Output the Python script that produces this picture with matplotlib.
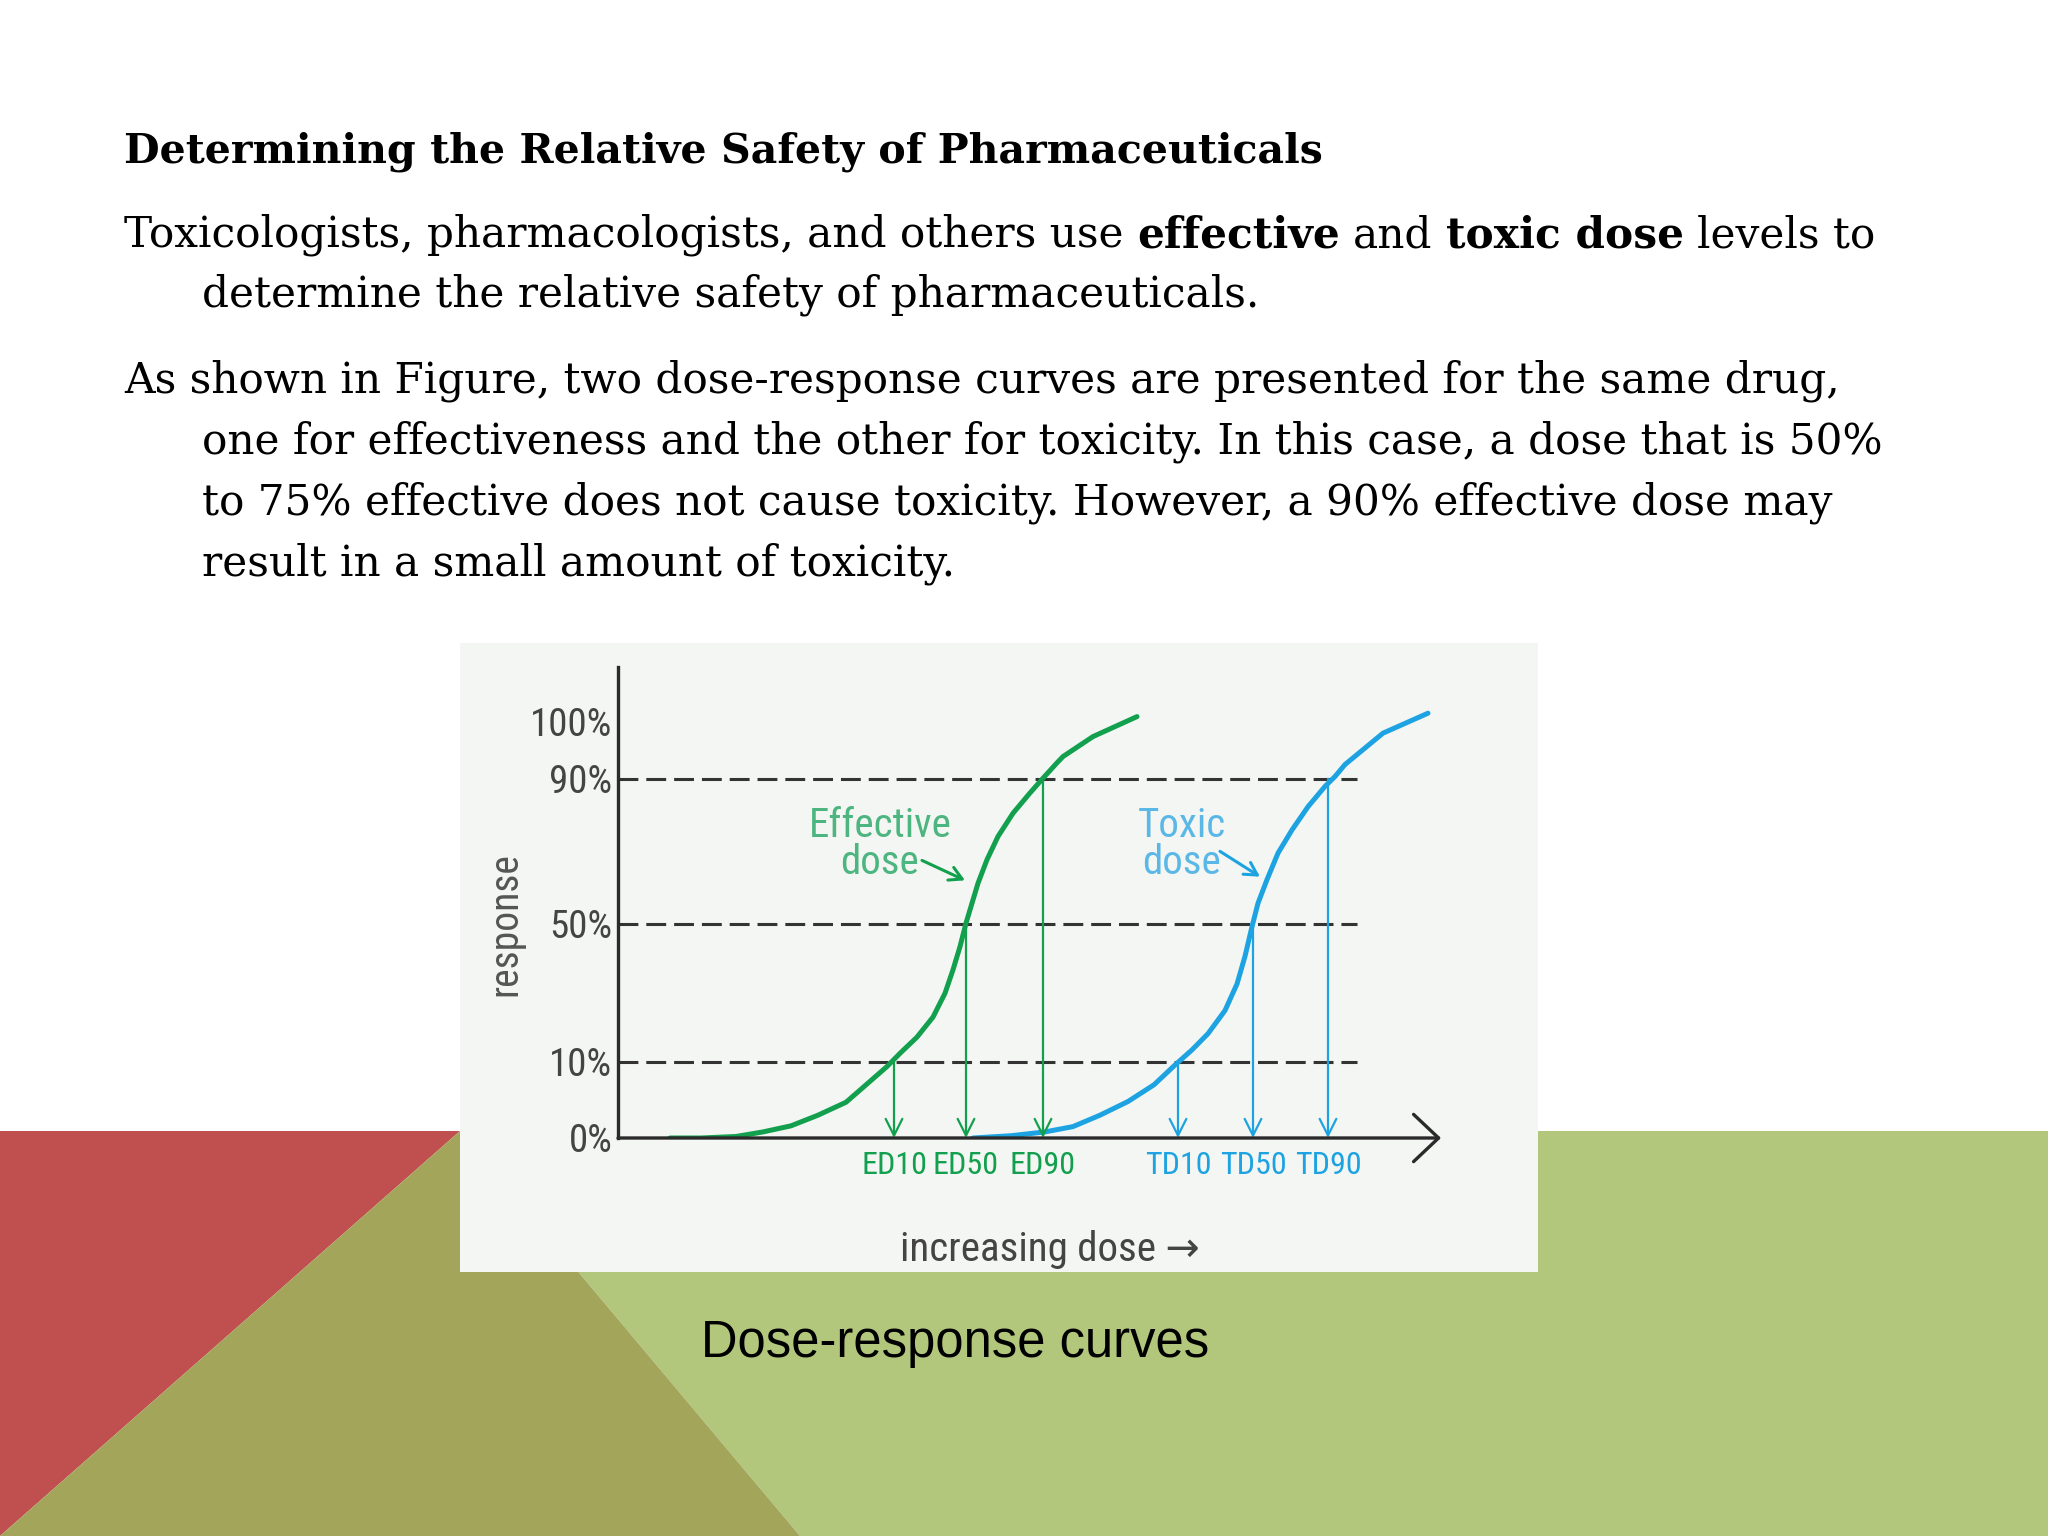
import numpy as np
import matplotlib
matplotlib.use('Agg')
import matplotlib.pyplot as plt
from matplotlib import font_manager
from matplotlib.patches import Polygon, Rectangle

# slide text
title_text = "Determining the Relative Safety of Pharmaceuticals"
para1_lines = [
    [("Toxicologists, pharmacologists, and others use", "normal"), ("effective", "bold"),
     ("and", "normal"), ("toxic dose", "bold"), ("levels to", "normal")],
    [("determine the relative safety of pharmaceuticals.", "normal")],
]
para2_lines = [
    "As shown in Figure, two dose-response curves are presented for the same drug,",
    "one for effectiveness and the other for toxicity. In this case, a dose that is 50%",
    "to 75% effective does not cause toxicity. However, a 90% effective dose may",
    "result in a small amount of toxicity.",
]
caption_text = "Dose-response curves"

# chart data (dose in arbitrary units, response in %)
response_ticks = [0, 10, 50, 90, 100]
response_tick_labels = ['0%', '10%', '50%', '90%', '100%']
# the hand drawn response axis is not linear: drawn height (px) of each level
scale_pct = [0, 10, 50, 90, 100, 110]
scale_px = [0, 76, 214, 359, 416, 473]

effective_dose = [5.2, 8.3, 11.8, 14.5, 17.3, 20.0, 22.8, 24.2, 26.9, 28.2, 29.9, 31.5,
                  32.7, 33.5, 34.2, 34.8, 35.4, 36.0, 36.9, 38.0, 39.5, 41.2, 42.5,
                  43.9, 44.5, 47.5, 51.9]
effective_resp = [0, 0, 0.2, 0.8, 1.6, 3.0, 4.7, 6.3, 9.4, 12.5, 17.2, 23.0,
                  29.9, 36.7, 43.4, 50.2, 55.7, 61.2, 67.7, 74.1, 80.5, 86.1, 90.1,
                  92.8, 93.9, 97.4, 100.9]
toxic_dose = [35.5, 39.3, 42.7, 45.5, 48.2, 51.0, 53.6, 55.7, 57.4, 59.0, 60.7, 61.9,
              62.7, 63.4, 64.0, 64.9, 66.0, 67.4, 69.0, 70.7, 71.7, 72.7,
              76.5, 81.0]
toxic_resp = [0, 0.3, 0.8, 1.5, 3.0, 4.8, 7.0, 9.6, 13.5, 18.2, 24.9, 32.6,
              40.6, 49.2, 55.7, 62.2, 69.5, 75.9, 82.3, 87.9, 90.4, 92.5,
              98.0, 101.5]

levels = [10, 50, 90]
ed_labels = ['ED10', 'ED50', 'ED90']
ed_values = [27.6, 34.8, 42.5]
td_labels = ['TD10', 'TD50', 'TD90']
td_values = [56.0, 63.5, 71.0]

GREEN = '#12a04e'
GREEN_TXT = '#4db57f'
BLUE = '#1ea3e2'
BLUE_TXT = '#5bb8e6'
INK = '#2a2a2a'

names = {f.name for f in font_manager.fontManager.ttflist}
hand = 'DejaVu Sans'
for cand in ['Roboto Condensed', 'Liberation Sans Narrow', 'Roboto', 'Liberation Sans']:
    if cand in names:
        hand = cand
        break
hand_fam = [hand, 'DejaVu Sans']
serif = ['DejaVu Serif']

fig = plt.figure(figsize=(20.48, 15.36), dpi=100)
W, H = 2048, 1536

# background layer in pixel coordinates
bg = fig.add_axes([0, 0, 1, 1])
bg.set_xlim(0, W)
bg.set_ylim(H, 0)
bg.axis('off')
bg.add_patch(Polygon([(460, 1131), (W, 1131), (W, H), (800, H)], closed=True, color='#b2c67c', lw=0))
bg.add_patch(Polygon([(0, 1131), (460, 1131), (0, H)], closed=True, color='#c0504f', lw=0))
bg.add_patch(Polygon([(460, 1131), (800, H), (0, H)], closed=True, color='#a3a65a', lw=0))
bg.add_patch(Rectangle((460, 643), 1078, 629, color='#f4f6f3', lw=0))

renderer = fig.canvas.get_renderer()
body_size = 30.4
title_size = 29.6


def text_width(s, weight):
    t = bg.text(0, 0, s, fontsize=body_size, fontweight=weight, family=serif)
    w = t.get_window_extent(renderer).width
    t.remove()
    return w


space_w = text_width("x x", "normal") - text_width("xx", "normal")


def draw_runs(x, y, runs):
    for i, (s, weight) in enumerate(runs):
        if i > 0:
            x += space_w
        t = bg.text(x, y, s, fontsize=body_size, fontweight=weight, family=serif,
                    va='baseline', ha='left', color='black')
        x += t.get_window_extent(renderer).width


bg.text(124, 162, title_text, fontsize=title_size, fontweight='bold', family=serif,
        va='baseline', ha='left')
draw_runs(124, 247, para1_lines[0])
draw_runs(202, 307, para1_lines[1])
for i, line in enumerate(para2_lines):
    draw_runs(124 if i == 0 else 202, 392 + i * 61.3, [(line, "normal")])

bg.text(701, 1357, caption_text, fontsize=36.5, family=['Liberation Sans', 'DejaVu Sans'],
        va='baseline', ha='left')

# chart axes
ax = fig.add_axes([618 / W, 1 - 1138 / H, (1445 - 618) / W, (1138 - 667) / H])
ax.patch.set_alpha(0)


def fwd(p):
    return np.interp(p, scale_pct, scale_px)


def inv(h):
    return np.interp(h, scale_px, scale_pct)


ax.set_yscale('function', functions=(fwd, inv))
ax.set_xlim(0, 82.7)
ax.set_ylim(0, 109.6)

for s in ['top', 'right', 'bottom']:
    ax.spines[s].set_visible(False)
ax.spines['left'].set_linewidth(2.4)
ax.spines['left'].set_color(INK)

ax.hlines(levels, 0, 73.9, colors='#333333', linewidth=2.2, linestyles=(0, (6.5, 2.6)))

ax.plot(toxic_dose, toxic_resp, color=BLUE, lw=3.6, solid_capstyle='round',
        solid_joinstyle='round', zorder=3)
ax.plot(effective_dose, effective_resp, color=GREEN, lw=3.6, solid_capstyle='round',
        solid_joinstyle='round', zorder=3)

for vals, col in [(ed_values, GREEN), (td_values, BLUE)]:
    for v, lev in zip(vals, levels):
        ax.annotate('', xy=(v, 0), xytext=(v, lev),
                    arrowprops=dict(arrowstyle='->, head_length=1.2, head_width=0.6',
                                    color=col, lw=1.6, shrinkA=0, shrinkB=0))

# x axis with open arrow head
ax.annotate('', xy=(82.3, 0), xytext=(0, 0), annotation_clip=False,
            arrowprops=dict(arrowstyle='->, head_length=1.8, head_width=1.7',
                            color=INK, lw=2.4, shrinkA=0, shrinkB=0))

ax.set_yticks(response_ticks, response_tick_labels)
ax.tick_params(axis='y', length=0, pad=4, labelsize=28, labelcolor='#444444')
for lab in ax.get_yticklabels():
    lab.set_family(hand_fam)

ax.set_xticks(ed_values + td_values, ed_labels + td_labels)
ax.tick_params(axis='x', length=0, pad=9, labelsize=23)
for lab, col in zip(ax.get_xticklabels(), [GREEN] * 3 + [BLUE] * 3):
    lab.set_color(col)
    lab.set_family(hand_fam)

ax.set_ylabel('response', fontsize=28.5, color='#555555', family=hand_fam)
ax.yaxis.set_label_coords(-0.113, 0.454)
ax.set_xlabel('increasing dose \u2192', fontsize=29.5, color='#444444', family=hand_fam)
ax.xaxis.set_label_coords(0.522, -0.195)

ax.text(26.2, 72, 'Effective\ndose', ha='center', va='center', fontsize=29.5,
        color=GREEN_TXT, family=hand_fam, linespacing=0.95)
ax.annotate('', xy=(34.7, 62), xytext=(30.4, 67.5),
            arrowprops=dict(arrowstyle='->, head_length=0.9, head_width=0.5',
                            color=GREEN, lw=2.2, shrinkA=0, shrinkB=0))
ax.text(56.4, 72, 'Toxic\ndose', ha='center', va='center', fontsize=29.5,
        color=BLUE_TXT, family=hand_fam, linespacing=0.95)
ax.annotate('', xy=(64.2, 63), xytext=(60.2, 70),
            arrowprops=dict(arrowstyle='->, head_length=0.9, head_width=0.5',
                            color=BLUE, lw=2.2, shrinkA=0, shrinkB=0))

fig.savefig('out.png', dpi=100)
